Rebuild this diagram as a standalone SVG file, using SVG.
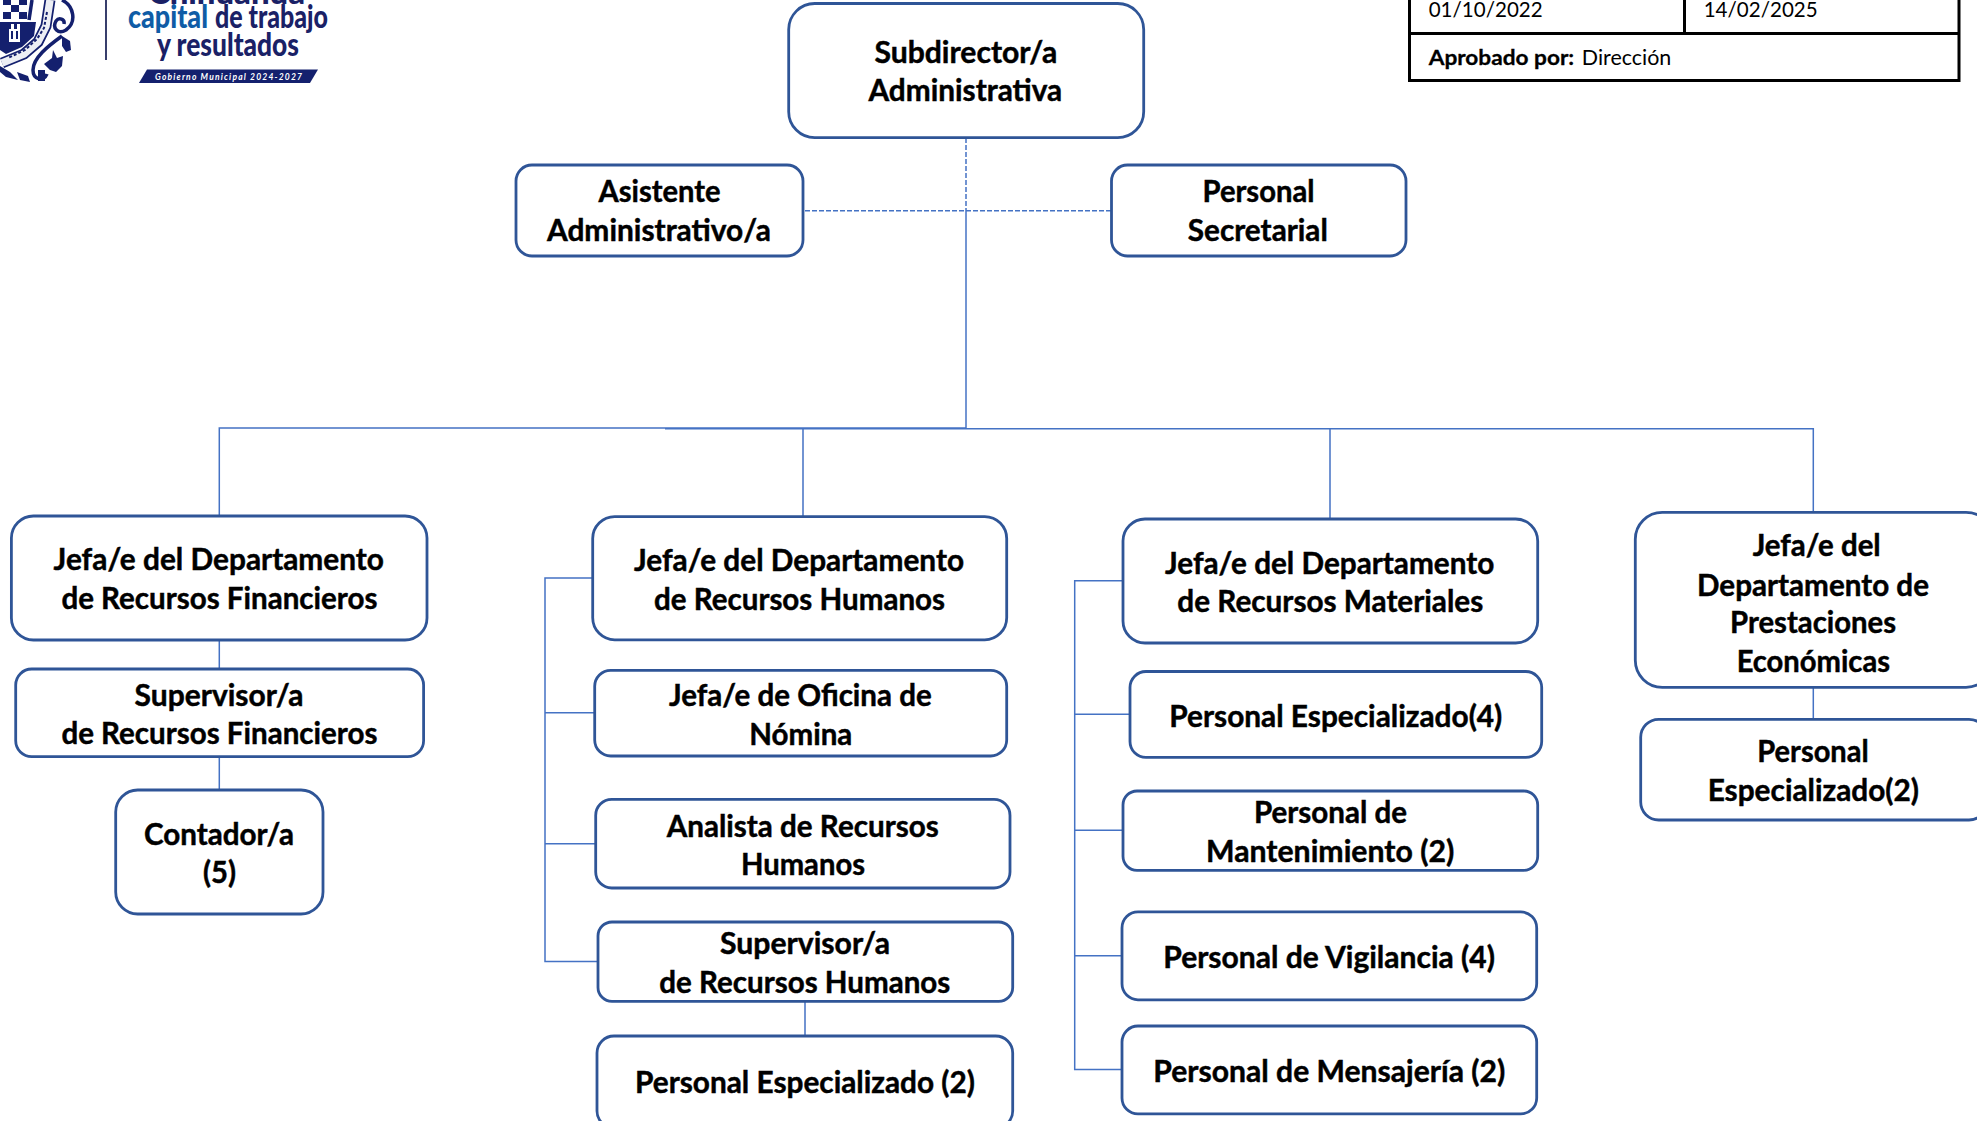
<svg xmlns="http://www.w3.org/2000/svg" width="1977" height="1121" viewBox="0 0 1977 1121">
<style>
.box{fill:#fff;stroke:#2f5597;stroke-width:2.8}
.t{font-family:"Lato","Carlito","Liberation Sans",sans-serif;font-weight:700;font-size:29.5px;fill:#000;stroke:#000;stroke-width:.45;transform:translateY(.8px)}
.c{fill:none;stroke:#4472c4;stroke-width:1.5}
.d{fill:none;stroke:#4472c4;stroke-width:1.5;stroke-dasharray:5 2}
.h{font-family:"Lato","Carlito","Liberation Sans",sans-serif;font-size:21.5px;fill:#000}
.hb{font-weight:700;stroke:#000;stroke-width:.3}
.tb{fill:none;stroke:#000;stroke-width:3}
.lg{font-family:"Lato","Open Sans",sans-serif;font-weight:900;font-size:33px;fill:#1a2166}
.navy{fill:#14206e}
.nl{fill:none;stroke:#14206e;stroke-width:3.500}
</style>
<rect width="1977" height="1121" fill="#fff"/>

<g id="logo">
<g id="crest">
<path class="navy" d="M0 22H36L34 36L22 47L6 54L0 50Z"/>
<path fill="#fff" d="M9 42V29H11V24H14V29H17V24H20V42Z"/>
<path class="navy" d="M11 31h2v8h-2zM16 31h2v8h-2z"/>
<path class="navy" d="M3 0H11V5H3ZM19 0H27V5H19ZM11 5H19V12H11ZM3 12H11V19H3ZM19 12H27V19H19Z"/>
<path class="nl" d="M32 0L29 20" stroke-width="2"/>
<path d="M50 0L46 26L38 42L24 54L2 63" fill="none" stroke="#14206e" stroke-width="11"/>
<path d="M50 0L46 26L38 42L24 54L2 63" fill="none" stroke="#eceef4" stroke-width="7.500"/>
<path d="M47 12L44 28L37 39L25 50L8 58" fill="none" stroke="#14206e" stroke-width="2" stroke-dasharray="3 2"/>
<path class="nl" d="M62 0C74 6 77 22 66 30C58 35 52 28 56 21C59 17 65 19 64 24" stroke-width="4"/>
<path class="nl" d="M62 36C48 46 33 58 33 70C33 80 44 82 47 74" stroke-width="3"/>
<path class="navy" d="M62 36L70 41L71 50L66 52L62 46Z"/>
<path class="navy" d="M44 64L52 58L53 50L57 58L63 56L62 66L56 72L50 70Z"/>
<path class="navy" d="M38 70h7v11h-7zM0 66L10 72L18 80L6 77L0 72ZM17 72L28 76L30 82L20 80Z"/>
</g>
<path d="M106 0V60" stroke="#222a5c" stroke-width="1.8"/>
<text class="lg" x="148" y="4" textLength="157" lengthAdjust="spacingAndGlyphs">Chihuahua</text>
<text class="lg" x="128" y="28" textLength="80" lengthAdjust="spacingAndGlyphs" style="fill:#0f5ca6">capital</text>
<text class="lg" x="215" y="28" textLength="113" lengthAdjust="spacingAndGlyphs">de trabajo</text>
<text class="lg" x="157" y="56" textLength="142" lengthAdjust="spacingAndGlyphs">y resultados</text>
<path class="navy" d="M147 69.500H318L310 83H139Z"/>
<text x="155" y="79.500" textLength="147" lengthAdjust="spacing" style="font-family:'Lato',sans-serif;font-size:8.500px;font-weight:700;fill:#fff;font-style:italic">Gobierno Municipal 2024-2027</text>
</g>

<g id="header-table">
<path class="tb" d="M1409.500 0V80.500H1959V0M1409.500 33.500H1959M1684.500 0V33.500"/>
<text class="h" x="1428.700" y="17.300" textLength="114" lengthAdjust="spacingAndGlyphs">01/10/2022</text>
<text class="h" x="1703.700" y="17.300" textLength="114" lengthAdjust="spacingAndGlyphs">14/02/2025</text>
<text class="h hb" x="1428.700" y="65" textLength="145.500" lengthAdjust="spacingAndGlyphs">Aprobado por:</text>
<text class="h" x="1581.800" y="65" textLength="89.500" lengthAdjust="spacingAndGlyphs">Dirección</text>
</g>

<g id="connectors">
<path class="d" d="M966 138V211M805 210.700H1111"/>
<path class="c" d="M966 211V428"/>
<path class="c" d="M219.300 516V428H966"/>
<path class="c" d="M665 428.800H1813.300V512M803 429V516M1330 429V519"/>
<path class="c" d="M219.300 640V669M219.300 757V790"/>
<path class="c" d="M592.700 578H545V961.400H598M545 712.700H594.700M545 843.800H595.700M805 1001.400V1036"/>
<path class="c" d="M1123 580.800H1074.700V1069.500H1122M1074.700 714.300H1130M1074.700 830.300H1123M1074.700 955.800H1122"/>
<path class="c" d="M1813.300 687V719"/>
</g>

<g id="n-subdirector"><rect class="box" x="788.700" y="3.500" width="355" height="134.200" rx="26"/>
<text class="t" x="874.400" y="62.700" textLength="183" lengthAdjust="spacingAndGlyphs">Subdirector/a</text>
<text class="t" x="868.500" y="100.700" textLength="193.700" lengthAdjust="spacingAndGlyphs">Administrativa</text></g>

<g id="n-asistente"><rect class="box" x="516" y="165" width="287" height="91" rx="16"/>
<text class="t" x="598.600" y="201.700" textLength="122" lengthAdjust="spacingAndGlyphs">Asistente</text>
<text class="t" x="547" y="240.700" textLength="224" lengthAdjust="spacingAndGlyphs">Administrativo/a</text></g>

<g id="n-secretarial"><rect class="box" x="1111.500" y="165" width="294.500" height="91" rx="16"/>
<text class="t" x="1202.500" y="201.700" textLength="112" lengthAdjust="spacingAndGlyphs">Personal</text>
<text class="t" x="1187.800" y="240.700" textLength="140" lengthAdjust="spacingAndGlyphs">Secretarial</text></g>

<g id="n-jefa-financieros"><rect class="box" x="11.400" y="516" width="415.600" height="124" rx="22"/>
<text class="t" x="53.600" y="569.500" textLength="330.400" lengthAdjust="spacingAndGlyphs">Jefa/e del Departamento</text>
<text class="t" x="61.400" y="608.500" textLength="316" lengthAdjust="spacingAndGlyphs">de Recursos Financieros</text></g>

<g id="n-sup-financieros"><rect class="box" x="15.700" y="669" width="407.900" height="87.700" rx="16"/>
<text class="t" x="134.600" y="704.800" textLength="169" lengthAdjust="spacingAndGlyphs">Supervisor/a</text>
<text class="t" x="61.400" y="742.800" textLength="316" lengthAdjust="spacingAndGlyphs">de Recursos Financieros</text></g>

<g id="n-contador"><rect class="box" x="115.700" y="790" width="207.300" height="124" rx="22"/>
<text class="t" x="144" y="844" textLength="150" lengthAdjust="spacingAndGlyphs">Contador/a</text>
<text class="t" x="203" y="882.500" textLength="33" lengthAdjust="spacingAndGlyphs">(5)</text></g>

<g id="n-jefa-humanos"><rect class="box" x="592.700" y="516.600" width="414" height="123.200" rx="22"/>
<text class="t" x="634" y="570" textLength="330" lengthAdjust="spacingAndGlyphs">Jefa/e del Departamento</text>
<text class="t" x="654" y="609" textLength="291" lengthAdjust="spacingAndGlyphs">de Recursos Humanos</text></g>

<g id="n-nomina"><rect class="box" x="594.700" y="670.300" width="412" height="85.700" rx="16"/>
<text class="t" x="669" y="705" textLength="262.700" lengthAdjust="spacingAndGlyphs">Jefa/e de Oficina de</text>
<text class="t" x="749.300" y="744" textLength="103" lengthAdjust="spacingAndGlyphs">Nómina</text></g>

<g id="n-analista"><rect class="box" x="595.700" y="799.400" width="414.300" height="88.600" rx="16"/>
<text class="t" x="666.700" y="836" textLength="272" lengthAdjust="spacingAndGlyphs">Analista de Recursos</text>
<text class="t" x="741" y="874.600" textLength="124" lengthAdjust="spacingAndGlyphs">Humanos</text></g>

<g id="n-sup-humanos"><rect class="box" x="598" y="922" width="414.700" height="79.400" rx="14"/>
<text class="t" x="720" y="953.500" textLength="170" lengthAdjust="spacingAndGlyphs">Supervisor/a</text>
<text class="t" x="659.300" y="992.300" textLength="291" lengthAdjust="spacingAndGlyphs">de Recursos Humanos</text></g>

<g id="n-esp-humanos"><rect class="box" x="597" y="1036" width="415.700" height="92" rx="17"/>
<text class="t" x="635" y="1092" textLength="340" lengthAdjust="spacingAndGlyphs">Personal Especializado (2)</text></g>

<g id="n-jefa-materiales"><rect class="box" x="1123" y="519" width="414.700" height="124" rx="22"/>
<text class="t" x="1165" y="573" textLength="329.300" lengthAdjust="spacingAndGlyphs">Jefa/e del Departamento</text>
<text class="t" x="1177.300" y="611.700" textLength="306" lengthAdjust="spacingAndGlyphs">de Recursos Materiales</text></g>

<g id="n-esp-materiales"><rect class="box" x="1130" y="671.500" width="411.700" height="85.900" rx="16"/>
<text class="t" x="1169.300" y="726" textLength="333" lengthAdjust="spacingAndGlyphs">Personal Especializado(4)</text></g>

<g id="n-mantenimiento"><rect class="box" x="1123" y="791" width="414.700" height="79.300" rx="14"/>
<text class="t" x="1254" y="822.400" textLength="153" lengthAdjust="spacingAndGlyphs">Personal de</text>
<text class="t" x="1206" y="861.200" textLength="248.300" lengthAdjust="spacingAndGlyphs">Mantenimiento (2)</text></g>

<g id="n-vigilancia"><rect class="box" x="1122" y="911.900" width="414.700" height="87.900" rx="16"/>
<text class="t" x="1163.300" y="967.300" textLength="331.700" lengthAdjust="spacingAndGlyphs">Personal de Vigilancia (4)</text></g>

<g id="n-mensajeria"><rect class="box" x="1122" y="1026" width="414.700" height="87.900" rx="16"/>
<text class="t" x="1153.300" y="1081" textLength="352" lengthAdjust="spacingAndGlyphs">Personal de Mensajería (2)</text></g>

<g id="n-jefa-prestaciones"><rect class="box" x="1635.300" y="512.300" width="357.700" height="175" rx="27"/>
<text class="t" x="1752.700" y="555" textLength="128" lengthAdjust="spacingAndGlyphs">Jefa/e del</text>
<text class="t" x="1697" y="595" textLength="232" lengthAdjust="spacingAndGlyphs">Departamento de</text>
<text class="t" x="1730" y="632.700" textLength="166" lengthAdjust="spacingAndGlyphs">Prestaciones</text>
<text class="t" x="1736.700" y="671.700" textLength="153.300" lengthAdjust="spacingAndGlyphs">Económicas</text></g>

<g id="n-esp-prestaciones"><rect class="box" x="1640.700" y="719.300" width="346.300" height="100.700" rx="18"/>
<text class="t" x="1757.300" y="761.700" textLength="111.400" lengthAdjust="spacingAndGlyphs">Personal</text>
<text class="t" x="1707.700" y="800" textLength="211.300" lengthAdjust="spacingAndGlyphs">Especializado(2)</text></g>
</svg>
